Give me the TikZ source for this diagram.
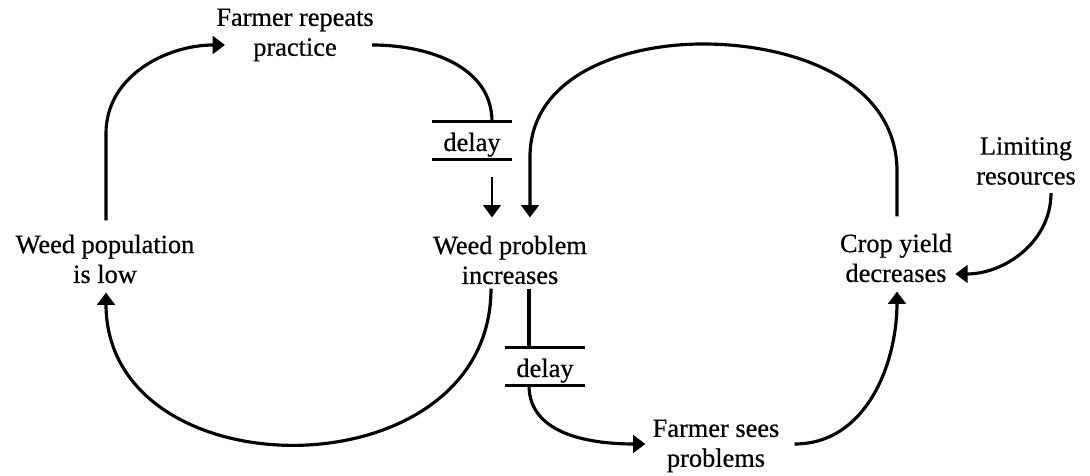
\documentclass[tikz,border=0pt]{standalone}
\usepackage{fontspec}
\setmainfont{Liberation Serif}
\newfontfamily\scanfont{Liberation Serif}[FakeBold=0.6]
\usetikzlibrary{arrows.meta}
\tikzstyle{factor} = [align=center, inner sep=0pt, font=\scanfont\fontsize{15}{17}\selectfont]
\tikzstyle{delaybox} = [inner sep=0pt, minimum width=1.6cm, text height=0.58cm, text depth=0.16cm, anchor=base, font=\scanfont\fontsize{15}{17}\selectfont]
\tikzstyle{delayline} = [line width=1.6pt]
\tikzstyle{link} = [line width=1.8pt]
\tikzstyle{arrow} = [line width=1.8pt, -{Triangle[width=10pt,length=7pt]}]
\tikzstyle{tick} = [line width=1.2pt, -{Triangle[width=10pt,length=7pt]}]

\begin{document}
\begin{tikzpicture}[x=0.02cm, y=0.02cm]
      \useasboundingbox (0,0) rectangle (1090,476);

      \node (repeats) [factor] at (295,441) {Farmer repeats\\practice};
      \node (lowpop) [factor] at (105,217) {Weed population\\is low};
      \node (problem) [factor] at (510,216) {Weed problem\\increases};
      \node (yield) [factor] at (896,218) {Crop yield\\decreases};
      \node (limits) [factor] at (1026,315) {Limiting\\resources};
      \node (sees) [factor] at (716,30) {Farmer sees\\problems};
      \node (delayA) [delaybox] at (472,325) {delay};
      \node (delayB) [delaybox] at (545,99) {delay};
      \coordinate (looptop) at (703,432);

      % delay bars
      \draw [delayline] (delayA.north west) -- (delayA.north east);
      \draw [delayline] (delayA.south west) -- (delayA.south east);
      \draw [delayline] (delayB.north west) -- (delayB.north east);
      \draw [delayline] (delayB.south west) -- (delayB.south east);

      % left loop
      \draw [arrow] ([shift={(1,14)}]lowpop.north) -- ++(0,87) to[out=90,in=180] ([shift={(9,-10)}]repeats.west);
      \draw [link] ([shift={(-2,-10)}]repeats.east) to[out=0,in=90] ([shift={(20,0)}]delayA.north);
      \draw [tick] ([shift={(20,-18)}]delayA.south) -- ([shift={(-18,18)}]problem.north);
      \draw [arrow] ([shift={(-19,-4)}]problem.south) .. controls (491,-19) and (106,-19) .. ([shift={(1,-9)}]lowpop.south);

      % right loop
      \draw [link] ([shift={(19,-4)}]problem.south) -- ([shift={(-16,0)}]delayB.north);
      \draw [arrow] ([shift={(-16,0)}]delayB.south) to[out=-90,in=180] ([shift={(-7,2)}]sees.west);
      \draw [arrow] ([shift={(15,2)}]sees.east) to[out=0,in=-90] ([shift={(1,-9)}]yield.south);
      \draw [arrow] ([shift={(1,17)}]yield.north) -- ++(0,45) to[out=90,in=0] (looptop) to[out=180,in=90] (530,319) -- ([shift={(20,18)}]problem.north);
      \draw [arrow] ([shift={(25,-8)}]limits.south) to[out=-90,in=0] ([shift={(3,-16)}]yield.east);
\end{tikzpicture}
\end{document}
